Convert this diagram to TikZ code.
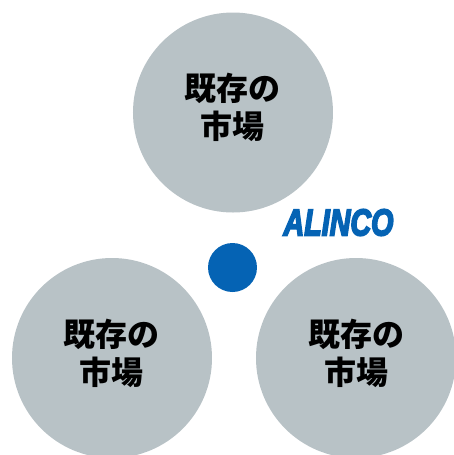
\documentclass[tikz,border=0pt]{standalone}
\usepackage{fontspec}
\usepackage{graphicx}
\setmainfont{Liberation Sans}
\newfontfamily\cjk{Noto Sans CJK JP Black}
\newfontfamily\logofont{Liberation Sans Bold Italic}[FakeBold=5]
\definecolor{cgray}{HTML}{B8C2C6}
\definecolor{cblue}{HTML}{0563B4}
\tikzset{px/.style={x=0.75pt,y=-0.75pt},
 market/.style={circle,fill=cgray,minimum size=150pt,inner sep=0pt},
 marketlabel/.style={inner sep=0pt,align=center,font=\cjk\fontsize{24pt}{28.5pt}\selectfont,text=black},
 hub/.style={circle,fill=cblue,minimum size=36.75pt,inner sep=0pt},
 logo/.style={inner sep=0pt,text=cblue,font=\logofont\fontsize{21.5pt}{21.5pt}\selectfont}}
\begin{document}
\begin{tikzpicture}[px]
\useasboundingbox (0,0) rectangle (454,455);
\clip (0,0) rectangle (454,455);
\node[market] (top) at (233,112.5) {};
\node[market] (left) at (112,358) {};
\node[market] (right) at (356,358) {};
\node[marketlabel] (toplabel) at (233,107.5) {既存の\\市場};
\node[marketlabel] (leftlabel) at (112,353.5) {既存の\\市場};
\node[marketlabel] (rightlabel) at (357,353.5) {既存の\\市場};
\node[hub] (center) at (232.5,267.5) {};
\node[logo] (brand) at (338.5,222.5) {\scalebox{1}[1.3]{ALINCO}};
\end{tikzpicture}
\end{document}
